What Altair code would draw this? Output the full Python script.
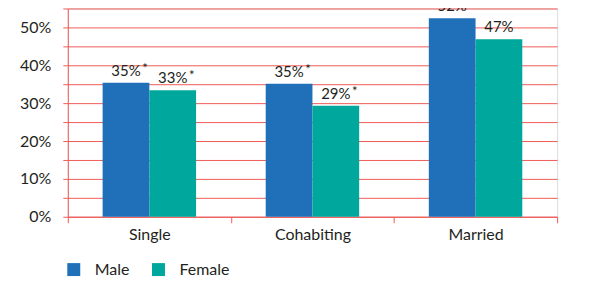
import altair as alt
import pandas as pd

categories = ["Single", "Cohabiting", "Married"]
male = [35.4, 35.1, 52.4]
female = [33.4, 29.3, 46.9]
male_labels = ["35%", "35%", "52%"]
female_labels = ["33%", "29%", "47%"]
male_stars = ["*", "*", ""]
female_stars = ["*", "*", ""]
series = ["Male", "Female"]
colors = ["#1f70b8", "#00a79d"]

rows = []
for i, c in enumerate(categories):
    rows.append({"cat": c, "sex": "Male", "v": male[i], "lab": male_labels[i], "star": male_stars[i]})
    rows.append({"cat": c, "sex": "Female", "v": female[i], "lab": female_labels[i], "star": female_stars[i]})
df = pd.DataFrame(rows)

FONT = "Lato"
TXT = "#231f20"
RED = "#ef5b57"

x = alt.X("cat:N", sort=categories, title=None,
          scale=alt.Scale(paddingInner=0, paddingOuter=0),
          axis=alt.Axis(labelAngle=0, tickBand="extent", domainColor=RED, tickColor=RED,
                        tickSize=6, labelFontSize=16, labelColor=TXT, labelFont=FONT,
                        labelPadding=4, grid=False))
xo = alt.XOffset("sex:N", sort=series, scale=alt.Scale(paddingInner=0, paddingOuter=0.745))
y = alt.Y("v:Q", title=None,
          scale=alt.Scale(domain=[0, 55], nice=False),
          axis=alt.Axis(values=list(range(0, 56, 5)),
                        labelExpr="datum.value % 10 == 0 ? datum.value + '%' : ''",
                        gridColor=RED, gridOpacity=1, domainColor=RED, tickColor=RED,
                        tickSize=5, labelFontSize=16, labelColor=TXT, labelFont=FONT,
                        labelPadding=12))

base = alt.Chart(df).encode(x=x, xOffset=xo, y=y)

bars = base.mark_bar().encode(
    color=alt.Color("sex:N", sort=series, scale=alt.Scale(domain=series, range=colors),
                    legend=alt.Legend(title=None, orient="none", legendX=-2, legendY=254,
                                      direction="horizontal", symbolType="square",
                                      symbolSize=169, symbolStrokeWidth=0, symbolOpacity=1,
                                      labelFontSize=16, labelFont=FONT, labelColor=TXT,
                                      labelOffset=13, columnPadding=21))
)

labels = base.mark_text(baseline="alphabetic", dy=-7, fontSize=15, font=FONT, color=TXT).encode(
    text="lab:N")
stars = base.mark_text(baseline="alphabetic", dx=19, dy=-10, fontSize=13, font=FONT, color=TXT).encode(
    text="star:N")

chart = (bars + labels + stars).properties(
    width=491, height=209,
    autosize=alt.AutoSizeParams(type="none"),
    padding={"left": 60, "top": 0, "right": 30, "bottom": 70},
).configure_view(stroke=None).configure(font=FONT)

chart.save("out.html", embed_options={"renderer": "svg", "actions": False})
